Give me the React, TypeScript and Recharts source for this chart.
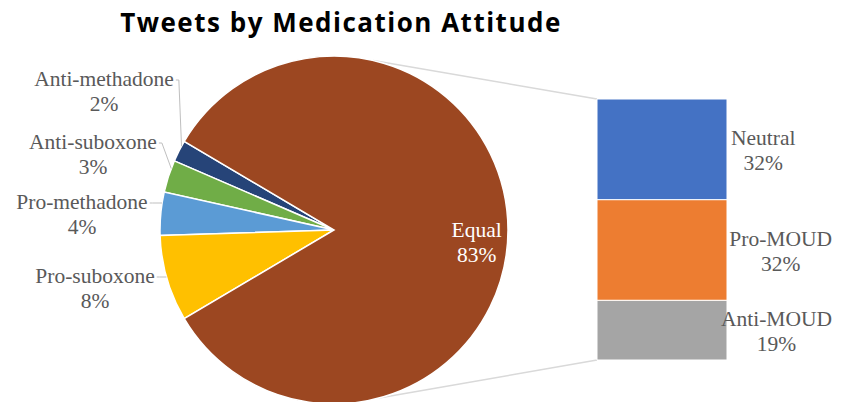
import React from "react";
import { PieChart, Pie, Cell, BarChart, Bar, XAxis, YAxis, LabelList } from "recharts";

// pie slices (counter-clockwise from upper left)
const pieNames = ["Anti-methadone", "Anti-suboxone", "Pro-methadone", "Pro-suboxone", "Equal"];
const pieValues = [2, 3, 4, 8, 83];
const pieColors = ["#264478", "#70AD47", "#5B9BD5", "#FFC000", "#9C4721"];

// breakdown of the "Equal" slice, bottom to top
const barNames = ["Anti-MOUD", "Pro-MOUD", "Neutral"];
const barValues = [19, 32, 32];
const barColors = ["#A5A5A5", "#ED7D31", "#4472C4"];

const W = 848;
const H = 402;
const CX = 334;
const CY = 230;
const R = 174;
const BAR_LEFT = 597;
const BAR_RIGHT = 727;
const BAR_TOP = 99;
const BAR_BOTTOM = 360;
const LABEL_LIMIT = 832; // labels don't run past this x

const FONT = "Liberation Serif, Times New Roman, serif";
const FS = 21.5;
const LINE = 25;
const TEXT_COLOR = "#595959";
const textStyle: React.CSSProperties = { fontFamily: FONT, fontSize: FS };

// where Excel put the outside labels (center x, first baseline)
const outsideLabelPos: Record<string, [number, number]> = {
  "Anti-methadone": [104, 86],
  "Anti-suboxone": [93, 149],
  "Pro-methadone": [82, 209],
  "Pro-suboxone": [95, 283],
};

const pieData = pieNames.map((name, i) => ({ name, value: pieValues[i] }));
const barRow: Record<string, any> = { name: "Equal" };
barNames.forEach((n, i) => (barRow[n] = barValues[i]));
const barData = [barRow];

const smallTotal = pieValues.slice(0, 4).reduce((a, b) => a + b, 0);
const totalPie = pieValues.reduce((a, b) => a + b, 0);
const START = 180 - (smallTotal / totalPie) * 180;

const ctx = typeof document !== "undefined" ? document.createElement("canvas").getContext("2d") : null;
const textWidth = (s: string) => {
  if (!ctx) return s.length * FS * 0.5;
  ctx.font = `${FS}px "Liberation Serif", serif`;
  return ctx.measureText(s).width;
};

const RAD = Math.PI / 180;

const renderPieLabel = (p: any) => {
  const { cx, cy, midAngle, outerRadius, percent } = p;
  const name = p.name ?? p.payload?.name;
  const value = p.value ?? p.payload?.value;
  if (name === "Equal") {
    const x = cx + outerRadius * 0.82 * Math.cos(-midAngle * RAD);
    const y = cy + outerRadius * 0.82 * Math.sin(-midAngle * RAD);
    return (
      <text x={x} y={y + 7} textAnchor="middle" fill="#ffffff" style={textStyle}>
        <tspan x={x}>{name}</tspan>
        <tspan x={x} dy={LINE}>{value}%</tspan>
      </text>
    );
  }
  const pos = outsideLabelPos[name];
  if (!pos) return null;
  const [lx, ly] = pos;
  const right = lx + textWidth(name) / 2;
  const sy = ly - 6;
  const half = percent * 180;
  const span = half * 2;
  const lo = midAngle - half + span * 0.25;
  const hi = midAngle + half - span * 0.25;
  const s = Math.max(-1, Math.min(1, (cy - sy) / outerRadius));
  let ang = 180 - Math.asin(s) / RAD;
  ang = Math.max(lo, Math.min(hi, ang));
  const ex = cx + outerRadius * Math.cos(ang * RAD);
  const ey = cy - outerRadius * Math.sin(ang * RAD);
  return (
    <g>
      <polyline
        points={`${right + 2},${sy} ${right + 5},${sy} ${ex},${ey}`}
        fill="none"
        stroke="#BFBFBF"
        strokeWidth={1}
      />
      <text x={lx} y={ly} textAnchor="middle" fill={TEXT_COLOR} style={textStyle}>
        <tspan x={lx}>{name}</tspan>
        <tspan x={lx} dy={LINE}>{value}%</tspan>
      </text>
    </g>
  );
};

const barLabel = (name: string, value: number) => (p: any) => {
  const x = Number(p.x);
  const y = Number(p.y);
  const width = Number(p.width);
  const height = Number(p.height);
  const pct = `${value}%`;
  const w = Math.max(textWidth(name), textWidth(pct));
  const mx = Math.min(x + width + 4 + w / 2, LABEL_LIMIT - w / 2);
  const my = y + height / 2;
  return (
    <text x={mx} y={my - 4} textAnchor="middle" fill={TEXT_COLOR} style={textStyle}>
      <tspan x={mx}>{name}</tspan>
      <tspan x={mx} dy={LINE}>{pct}</tspan>
    </text>
  );
};

const layer: React.CSSProperties = { position: "absolute", left: 0, top: 0 };

export default function App() {
  const topA = 77 * RAD;
  const botA = -75 * RAD;
  return (
    <div style={{ position: "absolute", left: 0, top: 0, width: W, height: H, background: "#fff", overflow: "hidden" }}>
      <div
        style={{
          ...layer,
          top: 4,
          width: 682,
          textAlign: "center",
          fontFamily: '"Open Sans", sans-serif',
          fontWeight: 700,
          fontSize: 26,
          letterSpacing: 1.5,
          color: "#000",
          lineHeight: "36px",
          whiteSpace: "nowrap",
        }}
      >
        Tweets by Medication Attitude
      </div>

      <svg width={W} height={H} style={layer}>
        <line
          x1={CX + R * Math.cos(topA)}
          y1={CY - R * Math.sin(topA)}
          x2={BAR_LEFT}
          y2={BAR_TOP}
          stroke="#D9D9D9"
          strokeWidth={1.5}
        />
        <line
          x1={CX + R * Math.cos(botA)}
          y1={CY - R * Math.sin(botA)}
          x2={BAR_LEFT}
          y2={BAR_BOTTOM}
          stroke="#D9D9D9"
          strokeWidth={1.5}
        />
      </svg>

      <div style={layer}>
        <PieChart width={W} height={H} margin={{ top: 0, right: 0, bottom: 0, left: 0 }}>
          <Pie
            data={pieData}
            dataKey="value"
            nameKey="name"
            cx={CX}
            cy={CY}
            outerRadius={R}
            startAngle={START}
            endAngle={START + 360}
            stroke="#ffffff"
            strokeWidth={1.5}
            label={renderPieLabel}
            labelLine={false}
            isAnimationActive={false}
          >
            {pieData.map((d, i) => (
              <Cell key={d.name} fill={pieColors[i]} />
            ))}
          </Pie>
        </PieChart>
      </div>

      <div style={layer}>
        <BarChart
          width={W}
          height={H}
          data={barData}
          barCategoryGap={0}
          margin={{ top: BAR_TOP, bottom: H - BAR_BOTTOM, left: BAR_LEFT, right: W - BAR_RIGHT }}
        >
          <XAxis dataKey="name" hide />
          <YAxis type="number" domain={[0, barValues.reduce((a, b) => a + b, 0)]} hide />
          {barNames.map((n, i) => (
            <Bar
              key={n}
              dataKey={n}
              stackId="eq"
              fill={barColors[i]}
              stroke="#ffffff"
              strokeWidth={1}
              isAnimationActive={false}
            >
              <LabelList dataKey={n} content={barLabel(n, barValues[i])} />
            </Bar>
          ))}
        </BarChart>
      </div>
    </div>
  );
}
